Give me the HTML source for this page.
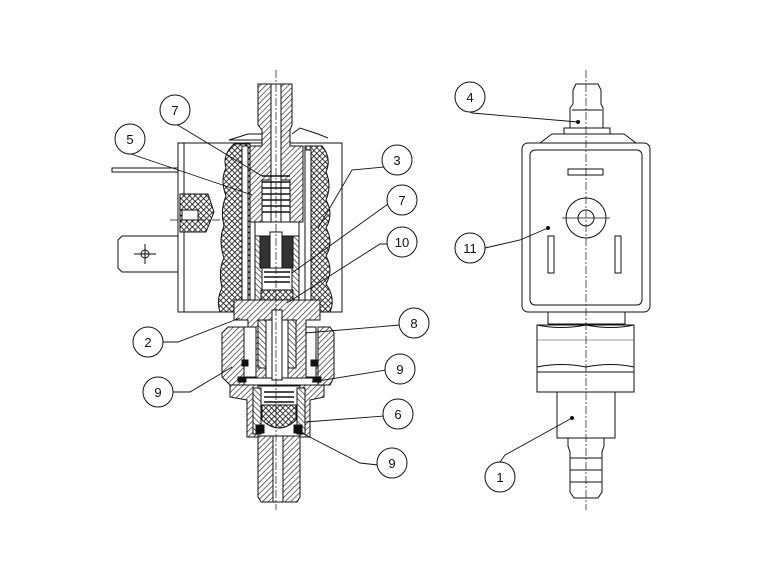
<!DOCTYPE html>
<html><head><meta charset="utf-8"><style>html,body{margin:0;padding:0;background:#fff}svg{display:block}</style></head>
<body>
<svg width="762" height="579" viewBox="0 0 762 579" xmlns="http://www.w3.org/2000/svg" font-family="Liberation Sans, sans-serif">
<defs>
<pattern id="h" width="4" height="4" patternUnits="userSpaceOnUse" patternTransform="rotate(45)"><rect width="4" height="4" fill="#fff"/><line x1="0" y1="0" x2="0" y2="4" stroke="#222" stroke-width="1.3"/></pattern>
<pattern id="h2" width="4" height="4" patternUnits="userSpaceOnUse" patternTransform="rotate(-45)"><rect width="4" height="4" fill="#fff"/><line x1="0" y1="0" x2="0" y2="4" stroke="#222" stroke-width="1.3"/></pattern>
<pattern id="x" width="4" height="4" patternUnits="userSpaceOnUse" patternTransform="rotate(45)"><rect width="4" height="4" fill="#fff"/><line x1="0" y1="0" x2="0" y2="4" stroke="#111" stroke-width="1.6"/><line x1="0" y1="0" x2="4" y2="0" stroke="#111" stroke-width="1.6"/></pattern>
</defs>
<g stroke="#111" stroke-width="1" fill="none">
<!-- LEFT: coil box -->
<rect x="178" y="143" width="164" height="169" fill="#fff"/>
<line x1="184" y1="143" x2="184" y2="312"/>
<rect x="112" y="168" width="66" height="4" fill="#fff"/>
<path d="M122 236 H178 V272 H122 L118 268 V240 Z" fill="#fff"/>
<circle cx="145" cy="254" r="4"/><line x1="134" y1="254" x2="156" y2="254"/><line x1="145" y1="244" x2="145" y2="264"/>
<path d="M180 194 H208 L214 212 L206 232 H180 Z" fill="url(#x)"/>
<rect x="182" y="210" width="16" height="10" fill="#fff"/>
<!-- coil crosshatch sides -->
<path d="M234 144 H250 V312 H220 Q216 300 222 288 Q218 270 224 258 Q218 240 224 226 Q220 210 226 196 Q220 180 226 168 Q222 155 234 144 Z" fill="url(#x)"/>
<path d="M305 146 H322 Q332 158 326 172 Q332 186 326 200 Q334 214 326 228 Q334 242 326 256 Q334 270 326 284 Q336 298 330 312 H305 Z" fill="url(#x)"/>
<rect x="242" y="146" width="6" height="166" fill="#fff"/>
<rect x="305" y="150" width="6" height="160" fill="#fff"/>
<!-- fixed core -->
<path d="M250 146 H262 V130 L258 125 V84 H292 V125 L290 130 V146 H303 V222 H290 V180 H262 V222 H250 Z" fill="url(#h)"/>
<path d="M229 140 L248 134 L262 134 V140 Z" fill="#fff"/>
<path d="M292 134 L300 128 L318 134 L328 138" />
<rect x="271" y="84" width="10" height="150" fill="#fff"/>
<!-- spring -->
<g stroke-width="1.6"><line x1="262" y1="176" x2="290" y2="176"/><line x1="262" y1="182" x2="290" y2="182"/><line x1="262" y1="188" x2="290" y2="188"/><line x1="262" y1="194" x2="290" y2="194"/><line x1="262" y1="200" x2="290" y2="200"/><line x1="262" y1="206" x2="290" y2="206"/><line x1="262" y1="212" x2="290" y2="212"/></g>
<rect x="255" y="222" width="44" height="14" fill="#fff"/>
<!-- plunger -->
<path d="M255 236 H299 V300 H255 Z" fill="url(#h2)"/>
<path d="M260 236 H293 V268 H260 Z" fill="#333"/>
<rect x="270" y="232" width="12" height="36" fill="#fff"/>
<rect x="262" y="268" width="30" height="22" fill="#fff"/>
<g stroke-width="1.6"><line x1="264" y1="272" x2="290" y2="272"/><line x1="264" y1="277" x2="290" y2="277"/><line x1="264" y1="282" x2="290" y2="282"/></g>
<path d="M261 290 H293 V302 Q277 318 261 302 Z" fill="url(#x)"/>
<!-- base plate -->
<path d="M234 300 H320 V320 H306 V360 H318 V378 H236 V360 H248 V320 H234 Z" fill="url(#h)"/>
<rect x="258" y="320" width="38" height="48" fill="url(#h2)"/>
<rect x="266" y="320" width="22" height="58" fill="#fff"/>
<rect x="272" y="310" width="10" height="70" fill="#fff"/>
<!-- nut -->
<path d="M228 327 H244 V385 H318 V327 H330 L334 333 V377 L330 385 H324 V388 H230 V385 L222 377 V333 Z" fill="url(#h)"/>
<rect x="244" y="327" width="12" height="50" fill="#fff"/>
<rect x="306" y="327" width="10" height="50" fill="#fff"/>
<rect x="242" y="360" width="6" height="6" fill="#111"/><rect x="311" y="360" width="6" height="6" fill="#111"/>
<rect x="238" y="377" width="8" height="5" fill="#111"/><rect x="313" y="377" width="8" height="5" fill="#111"/>
<!-- lower body -->
<path d="M230 385 H324 V397 L310 400 V437 H300 V497 L297 502 H261 L258 497 V437 H247 V400 L230 397 Z" fill="url(#h)"/>
<rect x="258" y="386" width="42" height="50" fill="#fff"/>
<rect x="253" y="388" width="8" height="46" fill="url(#h2)"/><rect x="297" y="388" width="8" height="46" fill="url(#h2)"/>
<g stroke-width="1.6"><line x1="264" y1="392" x2="294" y2="392"/><line x1="264" y1="397" x2="294" y2="397"/><line x1="264" y1="402" x2="294" y2="402"/></g>
<path d="M262 405 H296 V420 Q279 436 262 420 Z" fill="url(#x)"/>
<rect x="256" y="425" width="8" height="8" fill="#111"/><rect x="294" y="425" width="8" height="8" fill="#111"/>
<rect x="273" y="436" width="10" height="66" fill="#fff"/>
<line x1="276" y1="70" x2="276" y2="510" stroke-dasharray="8,2,2,2" stroke-width="0.7"/>
<line x1="170" y1="220" x2="226" y2="220" stroke-dasharray="8,2,2,2" stroke-width="0.7"/>

<!-- RIGHT -->
<path d="M570 128 V108 L573 104 V90 L576 84 H598 L601 90 V104 L603 108 V128 Z" fill="#fff"/>
<line x1="572" y1="110" x2="602" y2="110"/>
<rect x="564" y="128" width="46" height="6" fill="#fff"/>
<path d="M540 143 L552 134 H624 L636 143 Z" fill="#fff"/>
<rect x="522" y="143" width="128" height="169" rx="6" fill="#fff"/>
<rect x="530" y="150" width="112" height="155" rx="5"/>
<rect x="568" y="169" width="35" height="6"/>
<circle cx="586" cy="218" r="20"/><circle cx="586" cy="218" r="8"/>
<line x1="562" y1="218" x2="610" y2="218" stroke-width="0.7"/>
<rect x="548" y="236" width="6" height="37"/><rect x="615" y="236" width="6" height="37"/>
<rect x="548" y="312" width="77" height="12"/>
<path d="M537 325 H634 V372 H537 Z"/>
<path d="M537 325 Q561 330 586 325 Q611 330 634 325 M537 367 Q561 362 586 367 Q611 362 634 367"/>
<line x1="537" y1="340" x2="634" y2="340" stroke-width="0.4"/>
<rect x="537" y="372" width="97" height="20"/>
<rect x="557" y="392" width="58" height="46"/>
<path d="M568 438 H604 V446 L602 452 V492 L598 498 H574 L570 492 V452 L568 446 Z"/>
<line x1="570" y1="458" x2="602" y2="458"/><line x1="570" y1="470" x2="602" y2="470"/><line x1="570" y1="482" x2="602" y2="482"/>
<line x1="586" y1="70" x2="586" y2="510" stroke-dasharray="8,2,2,2" stroke-width="0.7"/>

<!-- leaders -->
<g stroke-width="0.9">
<path d="M176 124 L262 176"/><path d="M131 154 L252 195"/>
<path d="M384 167 L352 170 L318 228"/><path d="M388 204 L292 273"/>
<path d="M388 244 L380 244 L287 303"/><path d="M400 325 L305 333"/>
<path d="M162 342 L178 342 L240 318"/><path d="M172 392 L190 392 L232 367"/>
<path d="M386 370 L312 382"/><path d="M384 416 L305 422"/>
<path d="M378 465 L360 463 L302 433"/>
<path d="M470 112 L472 113 L578 122"/><path d="M485 248 L520 240 L548 228"/><path d="M500 462 L505 455 L572 418"/>
</g>
<g fill="#fff">
<circle cx="175" cy="110" r="15"/><circle cx="130" cy="139" r="15"/><circle cx="397" cy="160" r="15"/>
<circle cx="402" cy="200" r="15"/><circle cx="402" cy="242" r="15"/><circle cx="414" cy="323" r="15"/>
<circle cx="148" cy="342" r="15"/><circle cx="158" cy="392" r="15"/><circle cx="400" cy="369" r="15"/>
<circle cx="398" cy="414" r="15"/><circle cx="392" cy="463" r="15"/>
<circle cx="470" cy="97" r="15"/><circle cx="470" cy="248" r="15"/><circle cx="500" cy="477" r="15"/>
</g>
<g fill="#111"><circle cx="578" cy="122" r="1.5"/><circle cx="548" cy="228" r="1.5"/><circle cx="572" cy="418" r="1.5"/></g>
</g>
<g font-size="13" text-anchor="middle" fill="#111">
<text x="175" y="115">7</text><text x="130" y="144">5</text><text x="397" y="165">3</text>
<text x="402" y="205">7</text><text x="402" y="247">10</text><text x="414" y="328">8</text>
<text x="148" y="347">2</text><text x="158" y="397">9</text><text x="400" y="374">9</text>
<text x="398" y="419">6</text><text x="392" y="468">9</text>
<text x="470" y="102">4</text><text x="470" y="253">11</text><text x="500" y="482">1</text>
</g>
</svg>
</body></html>
